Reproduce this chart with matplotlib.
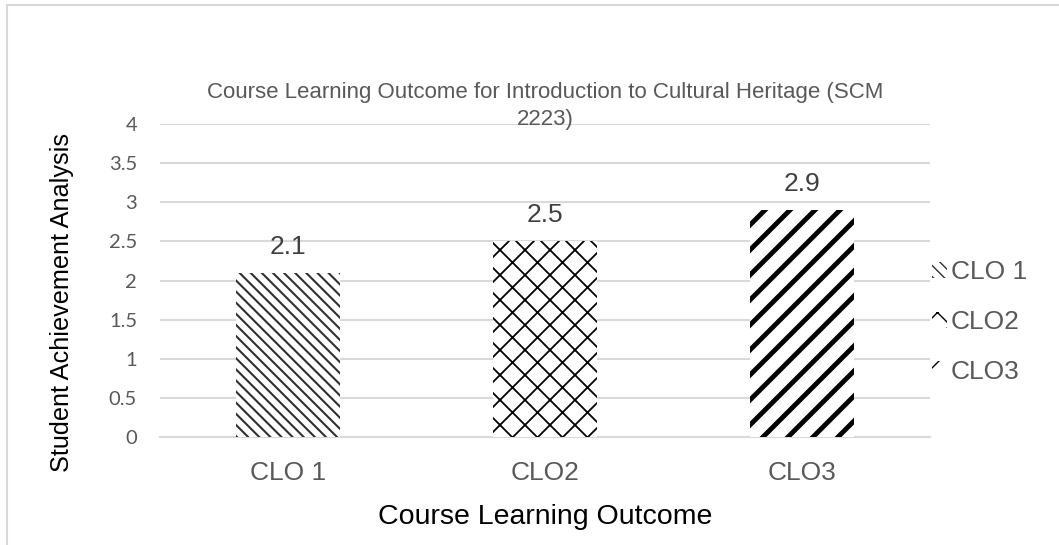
import matplotlib
matplotlib.use("Agg")
import matplotlib.pyplot as plt
import matplotlib.backend_bases as mbb
from matplotlib.path import Path
from matplotlib.lines import Line2D
from matplotlib.patches import Patch

categories = ["CLO 1", "CLO2", "CLO3"]
values = [2.1, 2.5, 2.9]
value_labels = ["2.1", "2.5", "2.9"]
yticks = [0, 0.5, 1, 1.5, 2, 2.5, 3, 3.5, 4]
ytick_labels = ["0", "0.5", "1", "1.5", "2", "2.5", "3", "3.5", "4"]
hatches = ["\\", "x", "/"]
hatch_density = {"\\": 18, "x": 8, "/": 8}
hatch_lws = [1.5, 1.3, 3.5]
hatch_colors = ["#303030", "#000000", "#000000"]
title = "Course Learning Outcome for Introduction to Cultural Heritage (SCM\n2223)"

# finer control of hatch spacing
_orig_get_hatch_path = mbb.GraphicsContextBase.get_hatch_path
def _get_hatch_path(self, density=6.0):
    h = self.get_hatch()
    if h in hatch_density:
        return Path.hatch(h, hatch_density[h])
    return _orig_get_hatch_path(self, density)
mbb.GraphicsContextBase.get_hatch_path = _get_hatch_path

plt.rcParams['font.family'] = ['Liberation Sans', 'DejaVu Sans']

fig = plt.figure(figsize=(10.59, 5.45), dpi=100)
ax = fig.add_axes([160/1059, 1-437/545, 770/1059, 313/545])

x = list(range(len(categories)))
bars = ax.bar(x, values, width=0.405, color="white", edgecolor=hatch_colors,
              linewidth=0, zorder=3)
for b, h, lw in zip(bars, hatches, hatch_lws):
    b.set_hatch(h)
    try:
        b.set_hatch_linewidth(lw)
    except Exception:
        pass

for xi, v, lab in zip(x, values, value_labels):
    ax.annotate(lab, (xi, v), xytext=(0, 10), textcoords="offset points",
                ha="center", va="bottom", fontsize=19, color="#404040")

ax.set_xlim(-0.5, 2.5)
ax.set_ylim(0, 4)
ax.set_yticks(yticks)
ax.set_yticklabels(ytick_labels, fontfamily="Lato", fontsize=14.5, color="#595959")
ax.set_xticks(x)
ax.set_xticklabels(categories, fontsize=19, color="#595959")
ax.tick_params(axis="both", length=0)
ax.tick_params(axis="y", pad=16.5)
ax.tick_params(axis="x", pad=17)
ax.grid(axis="y", color="#d9d9d9", linewidth=1.5, zorder=0)
for s in ["top", "right", "left"]:
    ax.spines[s].set_visible(False)
ax.spines["bottom"].set_color("#d9d9d9")
ax.spines["bottom"].set_linewidth(1.5)

fig.text(545/1059, 1-106/545, title, ha="center", va="center", fontsize=16,
         color="#595959", linespacing=1.4)
fig.text(62/1059, 1-303/545, "Student Achievement Analysis", rotation=90,
         ha="center", va="center", fontsize=18.2, color="#000000")
fig.text(545/1059, 1-517/545, "Course Learning Outcome", ha="center", va="center",
         fontsize=20.5, color="#000000")

handles = []
for h, lw, c in zip(hatches, hatch_lws, hatch_colors):
    p = Patch(facecolor="white", edgecolor=c, linewidth=0, hatch=h)
    try:
        p.set_hatch_linewidth(lw)
    except Exception:
        pass
    handles.append(p)
leg = fig.legend(handles, categories, loc="center left",
                 bbox_to_anchor=(919/1059, 1-322/545), frameon=False,
                 fontsize=19, handlelength=0.55, handleheight=0.55,
                 handletextpad=0.15, labelspacing=0.97, borderpad=0)
for t in leg.get_texts():
    t.set_color("#595959")

fig.add_artist(Line2D([7/1059, 1.0], [1-5/545, 1-5/545], color="#d9d9d9", linewidth=1.5,
                      transform=fig.transFigure))
fig.add_artist(Line2D([7/1059, 7/1059], [0, 1-5/545], color="#d9d9d9", linewidth=1.5,
                      transform=fig.transFigure))

fig.savefig("out.png", dpi=100)
